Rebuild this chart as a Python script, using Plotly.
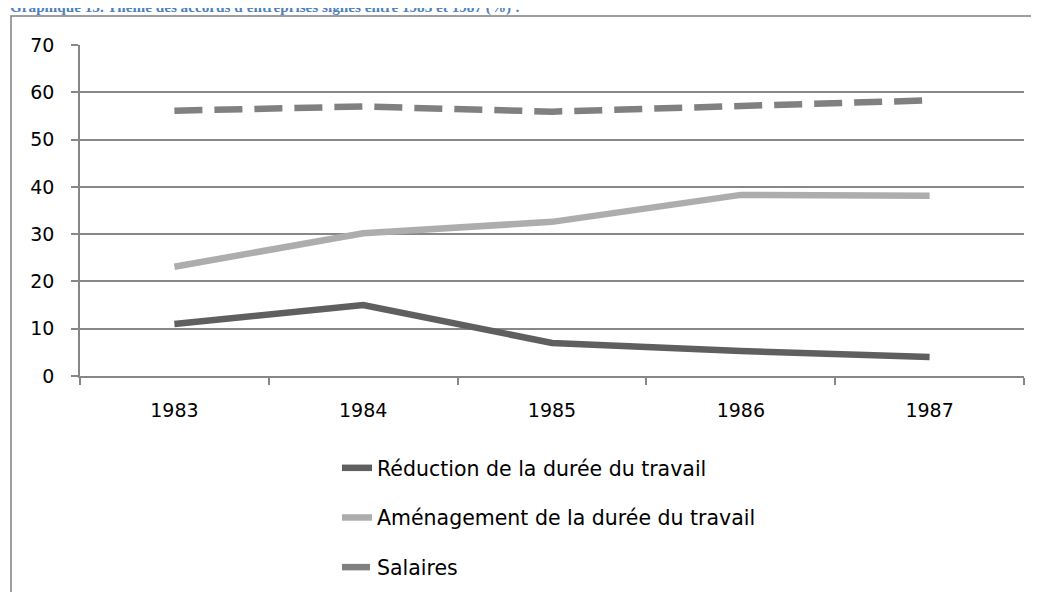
import plotly.graph_objects as go

years = ["1983", "1984", "1985", "1986", "1987"]
reduction = [11, 15, 7, 5.3, 4.0]
amenagement = [23.1, 30.2, 32.6, 38.3, 38.1]
salaires = [56.1, 57.0, 55.9, 57.0, 58.3]

names = ["Réduction de la durée du travail", "Aménagement de la durée du travail", "Salaires"]
colors = ["#5f5f5f", "#adadad", "#808080"]
dashes = ["solid", "solid", "28px,12px"]
series = [reduction, amenagement, salaires]

title_text = "Graphique 15. Thème des accords d'entreprises signés entre 1983 et 1987 (%) :"
FONT = "DejaVu Sans, Noto Sans, sans-serif"

# the page puts the figure 8px from the top-left corner; layout in figure pixels
L, T, PW, PH = 72, 37, 944, 331
W, H = 1039, 592
def px(x):
    return (x - L) / PW
def py(y):
    return (T + PH - y) / PH

fig = go.Figure()
for i, (nm, vals) in enumerate(zip(names, series)):
    fig.add_trace(go.Scatter(
        x=years, y=vals, name=nm, mode="lines",
        line=dict(color=colors[i], width=6.5, dash=dashes[i]),
        legendgroup=f"g{i}",
    ))

grid = "#878787"
fig.update_layout(
    width=W, height=H,
    margin=dict(l=L, r=W - L - PW, t=T, b=H - T - PH, autoexpand=False),
    paper_bgcolor="white", plot_bgcolor="white",
    font=dict(family=FONT, size=19, color="#000000"),
    showlegend=True,
    legend=dict(
        x=px(329), y=py(440), xanchor="left", yanchor="top",
        orientation="v", tracegroupgap=20,
        font=dict(family=FONT, size=20.5, color="#000000"),
        bgcolor="rgba(0,0,0,0)",
    ),
    xaxis=dict(
        type="category", range=[-0.5, 4.5],
        showgrid=False, showline=True, linecolor=grid, linewidth=1.5,
        ticks="outside", tickson="boundaries", ticklen=7, tickcolor=grid, tickwidth=1.5,
        ticklabelstandoff=16,
        tickfont=dict(family=FONT, size=19, color="#000000"),
        zeroline=False, fixedrange=True,
    ),
    yaxis=dict(
        range=[0, 70], dtick=10, tick0=0,
        showgrid=True, gridcolor=grid, gridwidth=1.5,
        showline=True, linecolor=grid, linewidth=1.5,
        ticks="outside", ticklen=7, tickcolor=grid, tickwidth=1.5,
        ticklabelstandoff=13,
        tickfont=dict(family=FONT, size=19, color="#000000"),
        zeroline=False, fixedrange=True,
    ),
    shapes=[dict(
        type="rect", xref="paper", yref="paper",
        x0=px(3), x1=px(1060), y0=py(640), y1=py(8),
        line=dict(color="#7f7f7f", width=1.5), fillcolor="rgba(0,0,0,0)", layer="below",
    )],
    annotations=[dict(
        text=title_text, xref="paper", yref="paper",
        x=px(0), y=py(10), xanchor="left", yanchor="bottom",
        showarrow=False,
        font=dict(family="Liberation Serif, Times New Roman, serif", size=15.2, color="#4f81bd", weight="bold"),
    )],
)

fig.write_html("out.html")
